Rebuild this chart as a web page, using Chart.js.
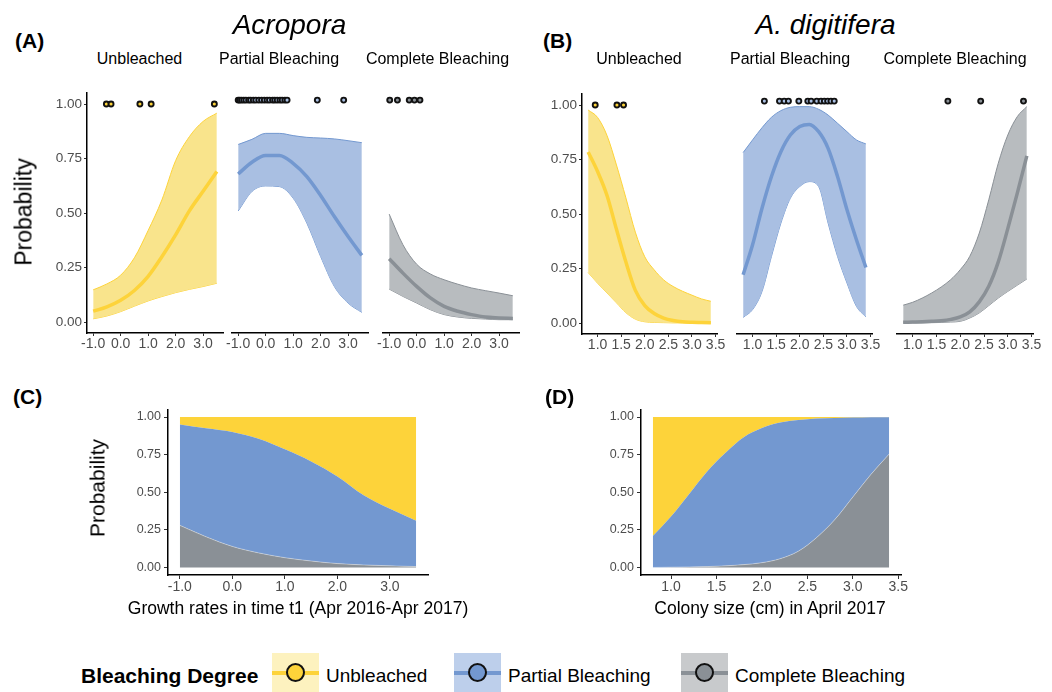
<!DOCTYPE html>
<html>
<head>
<meta charset="utf-8">
<script src="https://cdn.jsdelivr.net/npm/chart.js@4.4.1/dist/chart.umd.min.js"></script>
<style>
  body { margin:0; background:#fff; width:1052px; height:692px; position:relative; overflow:hidden;
         font-family:'Liberation Sans', Arial, sans-serif; }
  .t { position:absolute; white-space:nowrap; line-height:1; color:#000; }
  .c { transform:translate(-50%,-50%); }
  .l { transform:translateY(-50%); }
  .v { transform:translate(-50%,-50%) rotate(-90deg); }
  .key { position:absolute; top:653px; width:47px; height:39px; }
  .key .ln { position:absolute; left:0; right:0; top:18px; height:3.5px; }
  .key .pt { position:absolute; left:50%; top:50%; width:15px; height:15px; margin:-9.5px 0 0 -9.5px;
             border:2px solid #111; border-radius:50%; }
</style>
</head>
<body>
<script>
// ---- data ----
const acrX = [-1.0, -0.5, 0.0, 0.5, 1.0, 1.5, 2.0, 2.5, 3.0, 3.5];
const acrUnbFit = [0.05, 0.07, 0.10, 0.145, 0.21, 0.30, 0.40, 0.51, 0.60, 0.69];
const acrUnbHi  = [0.148, 0.175, 0.215, 0.295, 0.42, 0.56, 0.74, 0.85, 0.92, 0.958];
const acrUnbLo  = [0.015, 0.028, 0.048, 0.073, 0.097, 0.117, 0.135, 0.15, 0.163, 0.178];
const acrParFit = [0.667, 0.72, 0.75, 0.75, 0.715, 0.655, 0.57, 0.475, 0.385, 0.30];
const acrParHi  = [0.80, 0.823, 0.85, 0.85, 0.84, 0.832, 0.829, 0.825, 0.817, 0.808];
const acrParLo  = [0.50, 0.588, 0.613, 0.61, 0.558, 0.445, 0.295, 0.16, 0.085, 0.043];
const acrComFit = [0.285, 0.22, 0.16, 0.108, 0.07, 0.048, 0.033, 0.022, 0.018, 0.015];
const acrComHi  = [0.486, 0.348, 0.26, 0.216, 0.19, 0.17, 0.153, 0.141, 0.13, 0.118];
const acrComLo  = [0.148, 0.115, 0.085, 0.055, 0.033, 0.022, 0.016, 0.013, 0.01, 0.01];
const acrUnbObs = [-0.52, -0.35, 0.70, 1.11, 3.41];
const acrParObs = [-1.0, -0.95, -0.88, -0.8, -0.72, -0.62, -0.55, -0.45, -0.36, -0.25, -0.15, -0.05,
                   0.05, 0.14, 0.25, 0.33, 0.42, 0.52, 0.6, 0.7, 0.78, 1.88, 2.84];
const acrComObs = [-0.98, -0.70, -0.27, -0.08, 0.12];

const digX = [0.8, 1.0, 1.2, 1.4, 1.6, 1.8, 2.0, 2.2, 2.4, 2.6, 2.8, 3.0, 3.2, 3.4];
const digUnbFit = [0.785, 0.695, 0.585, 0.43, 0.28, 0.15, 0.08, 0.044, 0.023, 0.012, 0.006, 0.004, 0.003, 0.002];
const digUnbHi  = [0.977, 0.943, 0.86, 0.725, 0.574, 0.417, 0.304, 0.244, 0.198, 0.168, 0.146, 0.128, 0.111, 0.10];
const digUnbLo  = [0.232, 0.183, 0.138, 0.093, 0.048, 0.018, 0.006, 0.003, 0.002, 0.001, 0.001, 0, 0, 0];
const digParFit = [0.217, 0.352, 0.517, 0.66, 0.772, 0.847, 0.885, 0.895, 0.862, 0.787, 0.66, 0.51, 0.375, 0.25];
const digParHi  = [0.768, 0.825, 0.88, 0.927, 0.957, 0.972, 0.975, 0.975, 0.963, 0.937, 0.9, 0.862, 0.825, 0.807];
const digParLo  = [0.025, 0.06, 0.142, 0.30, 0.45, 0.562, 0.615, 0.637, 0.615, 0.45, 0.30, 0.18, 0.075, 0.027];
const digComFit = [0.003, 0.004, 0.005, 0.007, 0.01, 0.016, 0.027, 0.05, 0.095, 0.165, 0.275, 0.425, 0.585, 0.753];
const digComHi  = [0.08, 0.093, 0.112, 0.135, 0.162, 0.195, 0.24, 0.30, 0.405, 0.555, 0.72, 0.847, 0.93, 0.975];
const digComLo  = [0, 0, 0, 0.001, 0.002, 0.004, 0.007, 0.022, 0.045, 0.078, 0.112, 0.142, 0.17, 0.198];
const digUnbObs = [0.95, 1.41, 1.55];
const digParObs = [1.25, 1.57, 1.67, 1.76, 1.98, 2.17, 2.24, 2.36, 2.45, 2.52, 2.59, 2.66, 2.73];
const digComObs = [1.74, 2.43, 3.33];

// stacked probabilities (C: growth rate, D: colony size)
const grwUnb = [0.05, 0.075, 0.10, 0.145, 0.215, 0.295, 0.395, 0.52, 0.61, 0.69];
const grwPar = [0.67, 0.721, 0.76, 0.758, 0.72, 0.662, 0.579, 0.463, 0.379, 0.304];
const grwCom = [0.28, 0.204, 0.14, 0.097, 0.065, 0.043, 0.026, 0.017, 0.011, 0.006];
const sizeUnb = [0.791, 0.662, 0.511, 0.36, 0.237, 0.134, 0.073, 0.037, 0.02, 0.01, 0.006, 0.004, 0.002, 0.001];
const sizePar = [0.209, 0.336, 0.485, 0.634, 0.752, 0.847, 0.895, 0.905, 0.872, 0.792, 0.677, 0.528, 0.379, 0.245];
const sizeCom = [0.0, 0.002, 0.004, 0.006, 0.011, 0.019, 0.032, 0.058, 0.108, 0.198, 0.317, 0.468, 0.619, 0.754];

const acrTicks = [-1, 0, 1, 2, 3];
const digTicks = [1.0, 1.5, 2.0, 2.5, 3.0, 3.5];
const probTicks = [0, 0.25, 0.5, 0.75, 1];

// colours
const YEL = { line:'#FDD33A', fill:'#F9E48C', pt:'#FDD33A', area:'#FDD33A', key:'#FDF2BF' };
const BLU = { line:'#7398D0', fill:'#A9BFE2', pt:'#A9BFE2', area:'#7398D0', key:'#BDCFEB' };
const GRY = { line:'#8A9096', fill:'#B8BCBF', pt:'#8A9096', area:'#8A9096', key:'#C8CACC' };

Chart.defaults.font.family = "'Liberation Sans', Arial, sans-serif";

const pts = (xs, a) => xs.map((x, i) => ({ x: x, y: a[i] }));

// Chart.js paints the first dataset on top, so points and fit line come first
function ribbon(xs, fit, hi, lo, obs, col) {
  return [
    { data: obs.map(x => ({ x: x, y: 1 })), showLine: false, pointRadius: 2.5, pointBorderWidth: 1.9,
      pointBorderColor: '#111', pointBackgroundColor: col.pt },
    { data: pts(xs, fit), borderColor: col.line, borderWidth: 3.5, fill: false, cubicInterpolationMode: 'monotone' },
    { data: pts(xs, hi), borderColor: col.line, borderWidth: 1, backgroundColor: col.fill, fill: '+1', cubicInterpolationMode: 'monotone' },
    { data: pts(xs, lo), borderColor: col.line, borderWidth: 1, fill: false, cubicInterpolationMode: 'monotone' }
  ];
}

function stack(xs, com, par, unb) {
  return [
    { data: pts(xs, com), backgroundColor: GRY.area, borderColor: 'rgba(255,255,255,0.45)', borderWidth: 0.8, fill: 'origin', cubicInterpolationMode: 'monotone' },
    { data: pts(xs, par), backgroundColor: BLU.area, borderWidth: 0, fill: '-1', cubicInterpolationMode: 'monotone' },
    { data: pts(xs, unb), backgroundColor: YEL.area, borderWidth: 0, fill: '-1', cubicInterpolationMode: 'monotone' }
  ];
}

const YW = 48, PL = 16, PR = 16, PT = 6, XH = 24, PB = 2;

function makePanel(box, o) {
  const yw = o.showY ? YW : 0;
  const w = box.r - box.l + yw + PL + PR, h = box.b - box.t + PT + XH + PB;
  const cv = document.createElement('canvas');
  cv.width = w; cv.height = h;
  cv.style.cssText = `position:absolute;left:${box.l - yw - PL}px;top:${box.t - PT}px;width:${w}px;height:${h}px`;
  document.body.appendChild(cv);
  new Chart(cv, {
    type: 'line',
    data: { datasets: o.datasets },
    options: {
      responsive: false, animation: false, devicePixelRatio: 1,
      layout: { padding: { left: PL, right: PR, top: PT, bottom: PB } },
      plugins: { legend: { display: false }, tooltip: { enabled: false } },
      elements: { point: { radius: 0 } },
      scales: {
        x: {
          type: 'linear', min: o.xMin, max: o.xMax,
          afterBuildTicks: s => { s.ticks = o.xTicks.map(v => ({ value: v })); },
          afterFit: s => { s.height = XH; },
          ticks: { autoSkip: false, maxRotation: 0, minRotation: 0, padding: 0, color: '#4d4d4d',
                   font: { size: o.xFont }, callback: v => Number(v).toFixed(1) },
          grid: { drawOnChartArea: false, tickLength: o.tick, tickColor: '#333' },
          border: { color: '#000', width: 1.5 }
        },
        y: {
          display: o.showY, stacked: !!o.stacked, min: -0.05, max: 1.05,
          afterBuildTicks: s => { s.ticks = probTicks.map(v => ({ value: v })); },
          afterFit: s => { s.width = yw; },
          ticks: { padding: o.yPad, color: '#4d4d4d', font: { size: o.yFont }, callback: v => Number(v).toFixed(2) },
          grid: { drawOnChartArea: false, tickLength: o.tick, tickColor: '#333' },
          border: { color: '#000', width: 1.5 }
        }
      }
    }
  });
}

const facetA = { xMin: -1.225, xMax: 3.725, xTicks: acrTicks, xFont: 14, yFont: 13.5, tick: 3, yPad: 2 };
const facetB = { xMin: 0.67, xMax: 3.53, xTicks: digTicks, xFont: 14, yFont: 13.5, tick: 3, yPad: 2 };

makePanel({ l: 87, t: 89, r: 223, b: 333 }, Object.assign({}, facetA, { showY: true, datasets: ribbon(acrX, acrUnbFit, acrUnbHi, acrUnbLo, acrUnbObs, YEL) }));
makePanel({ l: 232, t: 89, r: 368, b: 333 }, Object.assign({}, facetA, { showY: false, datasets: ribbon(acrX, acrParFit, acrParHi, acrParLo, acrParObs, BLU) }));
makePanel({ l: 383, t: 89, r: 519, b: 333 }, Object.assign({}, facetA, { showY: false, datasets: ribbon(acrX, acrComFit, acrComHi, acrComLo, acrComObs, GRY) }));
makePanel({ l: 582, t: 90, r: 717, b: 334 }, Object.assign({}, facetB, { showY: true, datasets: ribbon(digX, digUnbFit, digUnbHi, digUnbLo, digUnbObs, YEL) }));
makePanel({ l: 737, t: 90, r: 872, b: 334 }, Object.assign({}, facetB, { showY: false, datasets: ribbon(digX, digParFit, digParHi, digParLo, digParObs, BLU) }));
makePanel({ l: 897, t: 90, r: 1033, b: 334 }, Object.assign({}, facetB, { showY: false, datasets: ribbon(digX, digComFit, digComHi, digComLo, digComObs, GRY) }));

makePanel({ l: 168, t: 405, r: 428, b: 575 }, { showY: true, stacked: true, xMin: -1.225, xMax: 3.725, xTicks: acrTicks,
  xFont: 14, yFont: 12.5, tick: 4, yPad: 3, datasets: stack(acrX, grwCom, grwPar, grwUnb) });
makePanel({ l: 641, t: 405, r: 901, b: 575 }, { showY: true, stacked: true, xMin: 0.67, xMax: 3.53, xTicks: digTicks,
  xFont: 14, yFont: 12.5, tick: 4, yPad: 3, datasets: stack(digX, sizeCom, sizePar, sizeUnb) });

// ---- text ----
function txt(s, cls, x, y, css) {
  const d = document.createElement('div');
  d.className = 't ' + cls;
  d.textContent = s;
  d.style.cssText = `left:${x}px;top:${y}px;` + (css || '');
  document.body.appendChild(d);
}
txt('(A)', 'l', 15, 39.5, 'font-size:21px;font-weight:bold;');
txt('(B)', 'l', 543, 39.5, 'font-size:21px;font-weight:bold;');
txt('(C)', 'l', 13, 396, 'font-size:21px;font-weight:bold;');
txt('(D)', 'l', 545, 396, 'font-size:21px;font-weight:bold;');
txt('Acropora', 'c', 289.5, 25, 'font-size:28px;font-style:italic;');
txt('A. digitifera', 'c', 825.5, 25, 'font-size:28px;font-style:italic;');
const strips = ['Unbleached', 'Partial Bleaching', 'Complete Bleaching'];
[139.5, 279, 437.5].forEach((x, i) => txt(strips[i], 'c', x, 59, 'font-size:16px;'));
[639, 790, 955].forEach((x, i) => txt(strips[i], 'c', x, 59, 'font-size:16px;'));
txt('Probability', 'v', 24, 211.5, 'font-size:23px;');
txt('Probability', 'v', 97, 488, 'font-size:21px;');
txt('Growth rates in time t1 (Apr 2016-Apr 2017)', 'c', 298, 609, 'font-size:17.5px;');
txt('Colony size (cm) in April 2017', 'c', 770, 609, 'font-size:17.5px;');

// ---- legend ----
txt('Bleaching Degree', 'l', 81, 675, 'font-size:21px;font-weight:bold;');
const legendItems = [
  { label: 'Unbleached', col: YEL, x: 272 },
  { label: 'Partial Bleaching', col: BLU, x: 454 },
  { label: 'Complete Bleaching', col: GRY, x: 681 }
];
legendItems.forEach(it => {
  const k = document.createElement('div');
  k.className = 'key';
  k.style.left = it.x + 'px';
  k.style.background = it.col.key;
  k.innerHTML = `<div class="ln" style="background:${it.col.line}"></div><div class="pt" style="background:${it.col.area}"></div>`;
  document.body.appendChild(k);
  txt(it.label, 'l', it.x + 54, 675, 'font-size:19px;');
});
</script>
</body>
</html>
